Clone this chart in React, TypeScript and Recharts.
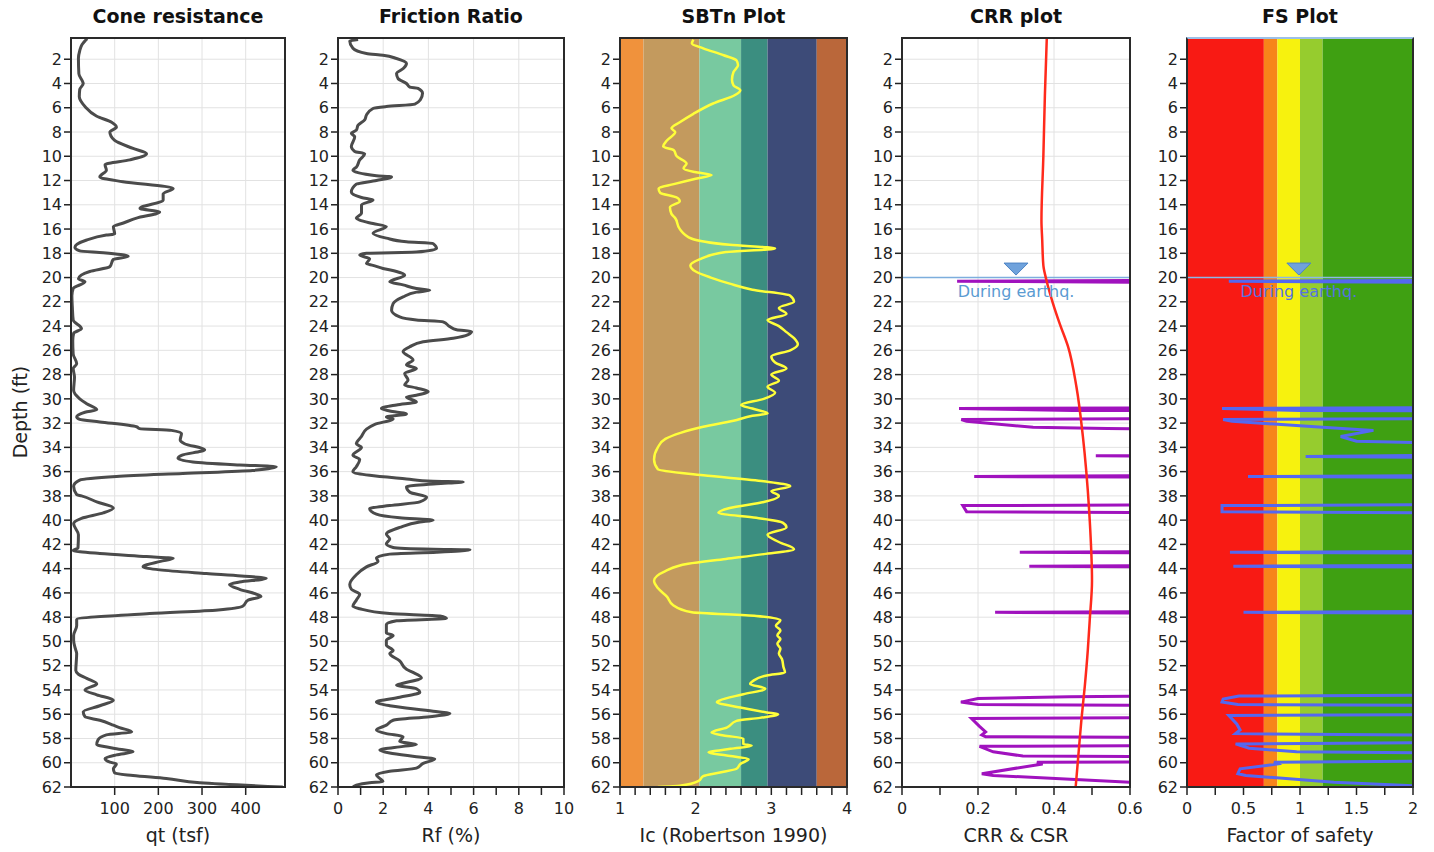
import React from 'react';
import { LineChart, Line, XAxis, YAxis, CartesianGrid, ReferenceLine, ReferenceArea, ReferenceDot } from 'recharts';

const FONT = "'DejaVu Sans', Verdana, sans-serif";

const depthTicks = [2, 4, 6, 8, 10, 12, 14, 16, 18, 20, 22, 24, 26, 28, 30, 32, 34, 36, 38, 40, 42, 44, 46, 48, 50, 52, 54, 56, 58, 60, 62];

const qtTicks = [100, 200, 300, 400];
const qtLabels = [100, 200, 300, 400];
const rfTicks = [0, 1, 2, 3, 4, 5, 6, 7, 8, 9, 10];
const rfLabels = [0, 2, 4, 6, 8, 10];
const icTicks = [1, 1.2, 1.4, 1.6, 1.8, 2, 2.2, 2.4, 2.6, 2.8, 3, 3.2, 3.4, 3.6, 3.8, 4];
const icLabels = [1, 2, 3, 4];
const crrTicks = [0, 0.1, 0.2, 0.3, 0.4, 0.5, 0.6];
const crrLabels = [0, 0.2, 0.4, 0.6];
const fsTicks = [0, 0.25, 0.5, 0.75, 1, 1.25, 1.5, 1.75, 2];
const fsLabels = [0, 0.5, 1, 1.5, 2];

// SBTn zone boundaries (Ic) and colours
const sbtZones: [number, number, string][] = [
  [1, 1.31, '#F0923C'],
  [1.31, 2.05, '#C39A5E'],
  [2.05, 2.6, '#78C9A0'],
  [2.6, 2.95, '#3B8E80'],
  [2.95, 3.6, '#3D4B78'],
  [3.6, 4, '#BA673A'],
];

// FS colour bands
const fsZones: [number, number, string][] = [
  [0, 0.68, '#F81A14'],
  [0.68, 0.8, '#F7841A'],
  [0.8, 1.0, '#F7F20E'],
  [1.0, 1.2, '#96CC2E'],
  [1.2, 2, '#3FA012'],
];

// [depth ft, qt tsf]
const qtData: [number, number][] = [
  [0.3, 37], [0.8, 25], [1.3, 20], [1.9, 17], [3.2, 18], [3.8, 26], [4.0, 28], [4.5, 20], [5.1, 19], [5.9, 32],
  [6.7, 59], [7.2, 93], [7.6, 104], [8.0, 89], [8.7, 100], [9.35, 142], [9.8, 173], [10.3, 135], [10.7, 78],
  [11.15, 81], [11.7, 66], [12.1, 119], [12.65, 234], [13.1, 211], [13.6, 211], [14.3, 158], [14.6, 203],
  [15.1, 150], [15.5, 120], [15.8, 97], [16.4, 100], [16.5, 81], [16.9, 36], [17.5, 9], [17.8, 20], [17.95, 74],
  [18.25, 131], [18.5, 97], [19.1, 89], [19.5, 43], [20.1, 17], [20.35, 32], [20.9, 5], [21.5, 2], [22.4, 3],
  [23.5, 5], [24.2, 24], [24.6, 6], [25.2, 4], [26.3, 5], [27.1, 13], [27.5, 5], [28.2, 8], [29.3, 6], [30.0, 20],
  [30.4, 36], [30.9, 59], [31.1, 32], [31.5, 13], [31.7, 20], [31.9, 66], [32.3, 150], [32.45, 157], [32.6, 230],
  [32.85, 253], [33.4, 250], [33.7, 260], [34.2, 306], [34.65, 253], [34.9, 245], [35.2, 279], [35.45, 386],
  [35.6, 470], [35.9, 416], [36.15, 256], [36.4, 104], [36.7, 20], [37.2, 6], [37.9, 13], [38.0, 24], [38.5, 59],
  [39.0, 97], [39.4, 74], [39.85, 24], [40.3, 6], [41.2, 17], [42.3, 16], [42.5, 5], [42.75, 66], [43.0, 173],
  [43.15, 234], [43.4, 205], [43.85, 165], [44.1, 203], [44.4, 310], [44.6, 390], [44.8, 447], [45.1, 386],
  [45.3, 363], [45.7, 386], [46.1, 424], [46.3, 435], [46.6, 405], [47.1, 393], [47.4, 337], [47.7, 180],
  [48.2, 13], [48.7, 13], [49.5, 6], [49.9, 6], [50.6, 10], [51.0, 13], [52.4, 11], [52.7, 17], [53.05, 36],
  [53.5, 59], [54.0, 32], [54.4, 59], [54.85, 97], [55.3, 66], [55.8, 28], [56.2, 32], [56.5, 66], [56.9, 97],
  [57.1, 111], [57.45, 139], [57.7, 81], [58.1, 62], [58.5, 59], [58.8, 97], [59.1, 142], [59.35, 104],
  [59.65, 78], [59.95, 89], [60.1, 104], [60.5, 97], [60.85, 100], [61.05, 142], [61.3, 218], [61.65, 295],
  [62.0, 485],
];

// [depth ft, Rf %]
const rfData: [number, number][] = [
  [0.38, 0.89], [0.5, 0.52], [1.1, 0.66], [1.53, 1.26], [1.67, 1.99], [1.94, 2.59], [2.35, 3.03], [2.75, 2.9],
  [3.18, 2.59], [3.6, 2.66], [4.0, 3.03], [4.3, 3.18], [4.4, 3.54], [4.8, 3.74], [5.35, 3.64], [5.7, 3.4],
  [5.9, 2.14], [6.06, 1.55], [6.6, 1.26], [7.0, 1.18], [7.44, 0.89], [7.85, 0.81], [8.1, 0.59], [8.4, 0.74],
  [9.2, 0.59], [9.6, 0.74], [9.8, 1.18], [10.3, 0.96], [10.9, 0.81], [11.15, 0.66], [11.6, 1.7], [11.7, 2.37],
  [12.0, 1.7], [12.3, 0.81], [12.95, 0.59], [13.4, 1.04], [13.6, 1.55], [14.0, 1.04], [14.7, 1.04], [15.1, 0.81],
  [15.27, 0.96], [15.55, 1.55], [15.8, 2.14], [16.35, 1.55], [16.75, 2.14], [17.05, 3.03], [17.2, 4.21],
  [17.6, 4.36], [17.9, 3.47], [18.0, 1.26], [18.15, 0.96], [18.45, 1.4], [18.85, 1.26], [19.0, 1.55],
  [19.25, 1.99], [19.5, 2.59], [19.8, 2.95], [20.35, 2.29], [20.6, 2.88], [20.9, 3.47], [21.05, 4.06],
  [21.2, 3.47], [21.6, 2.88], [22.15, 2.44], [22.7, 2.37], [23.25, 2.73], [23.5, 3.47], [23.65, 4.65],
  [24.05, 4.95], [24.3, 5.25], [24.45, 5.91], [24.7, 5.76], [25.0, 5.1], [25.3, 3.77], [25.7, 3.18], [26.1, 2.88],
  [26.8, 3.32], [27.2, 3.03], [27.5, 3.47], [27.9, 2.95], [28.45, 3.1], [28.85, 2.95], [29.1, 3.47], [29.4, 3.99],
  [29.7, 3.47], [29.85, 3.03], [30.25, 3.47], [30.5, 2.59], [30.8, 1.92], [31.0, 2.29], [31.25, 3.03], [31.5, 2.14],
  [31.65, 2.44], [32.1, 1.63], [32.5, 1.26], [33.1, 1.04], [33.7, 0.81], [34.0, 1.04], [34.65, 0.66], [35.0, 0.96],
  [35.6, 0.81], [36.0, 0.66], [36.3, 1.4], [36.6, 3.03], [36.8, 4.21], [36.85, 5.54], [37.0, 4.36], [37.25, 3.03],
  [37.7, 3.18], [38.1, 3.92], [38.5, 3.62], [38.8, 2.29], [39.05, 1.4], [39.5, 1.7], [39.8, 2.73], [40.0, 4.21],
  [40.15, 3.62], [40.6, 2.73], [41.15, 2.14], [41.55, 2.29], [41.95, 2.14], [42.25, 2.44], [42.4, 4.21],
  [42.45, 5.84], [42.65, 4.36], [42.8, 2.29], [43.1, 1.7], [43.4, 1.77], [43.85, 1.26], [44.5, 0.81], [45.3, 0.52],
  [45.7, 0.59], [46.1, 0.96], [46.6, 0.81], [47.1, 0.66], [47.3, 0.96], [47.7, 2.29], [47.9, 4.51], [48.1, 4.8],
  [48.3, 2.59], [48.6, 2.14], [49.3, 2.14], [49.5, 2.44], [49.9, 2.14], [50.3, 2.14], [50.75, 2.44], [51.0, 2.29],
  [51.6, 2.73], [52.3, 3.03], [52.55, 3.32], [53.0, 3.69], [53.45, 2.88], [53.6, 2.59], [53.9, 3.47], [54.2, 3.62],
  [54.6, 2.73], [55.0, 1.7], [55.3, 2.29], [55.75, 4.21], [55.95, 4.95], [56.2, 4.06], [56.5, 2.44], [56.9, 2.14],
  [57.3, 1.7], [57.6, 2.14], [57.85, 2.88], [58.25, 2.73], [58.5, 3.47], [58.65, 2.88], [58.95, 1.85], [59.2, 2.29],
  [59.5, 3.47], [59.7, 4.28], [60.05, 3.77], [60.45, 3.47], [60.7, 2.29], [61.0, 1.7], [61.3, 1.85], [61.55, 1.99],
  [61.65, 1.4], [61.85, 0.81], [62.0, 0.66],
];

// [depth ft, Ic]
const icData: [number, number][] = [
  [0.38, 1.97], [0.7, 1.95], [1.1, 2.1], [1.67, 2.37], [2.1, 2.54], [2.5, 2.56], [3.05, 2.5], [3.7, 2.48],
  [4.15, 2.5], [4.55, 2.59], [4.95, 2.52], [5.65, 2.23], [6.5, 1.97], [7.2, 1.79], [7.7, 1.68], [8.0, 1.73],
  [8.7, 1.62], [9.2, 1.57], [9.5, 1.71], [10.0, 1.75], [10.6, 1.88], [11.0, 1.84], [11.3, 1.99], [11.55, 2.21],
  [11.85, 2.0], [12.3, 1.71], [12.65, 1.51], [13.0, 1.53], [13.4, 1.75], [13.7, 1.79], [14.2, 1.66], [14.75, 1.68],
  [15.1, 1.73], [16.0, 1.79], [16.8, 1.95], [17.3, 2.45], [17.6, 3.05], [17.9, 2.4], [18.5, 2.05], [19.0, 1.93],
  [19.5, 2.0], [20.0, 2.2], [20.5, 2.45], [21.0, 2.75], [21.5, 3.25], [22.0, 3.3], [22.5, 3.1], [23.0, 3.2],
  [23.5, 2.95], [24.0, 3.1], [24.5, 3.2], [25.0, 3.3], [25.5, 3.35], [26.0, 3.25], [26.5, 3.0], [27.0, 3.05],
  [27.5, 3.2], [28.0, 3.0], [28.5, 3.1], [29.0, 2.95], [29.5, 3.05], [30.0, 2.9], [30.5, 2.6], [30.8, 2.75],
  [31.2, 2.95], [31.4, 2.75], [31.8, 2.5], [32.3, 2.1], [32.8, 1.8], [33.3, 1.6], [34.0, 1.5], [35.0, 1.45],
  [35.8, 1.5], [36.3, 2.1], [36.8, 2.9], [37.2, 3.25], [37.6, 3.0], [38.0, 3.1], [38.5, 2.9], [39.0, 2.45],
  [39.4, 2.3], [39.8, 2.8], [40.2, 3.15], [40.6, 3.2], [41.2, 2.95], [41.8, 3.1], [42.4, 3.3], [42.8, 2.9],
  [43.2, 2.4], [43.6, 1.9], [44.2, 1.6], [45.0, 1.45], [45.6, 1.5], [46.3, 1.62], [47.0, 1.7], [47.6, 1.95],
  [47.9, 2.8], [48.25, 3.12], [48.7, 3.06], [49.1, 3.12], [49.5, 3.08], [49.8, 3.12], [50.2, 3.08], [50.6, 3.12],
  [51.0, 3.1], [51.45, 3.14], [52.1, 3.16], [52.55, 3.18], [52.8, 2.94], [53.25, 2.76], [53.5, 2.72], [53.9, 2.92],
  [54.35, 2.63], [54.85, 2.32], [55.0, 2.28], [55.45, 2.59], [55.85, 2.94], [56.0, 3.09], [56.3, 2.85],
  [56.55, 2.54], [57.1, 2.41], [57.5, 2.21], [57.75, 2.37], [58.0, 2.63], [58.45, 2.63], [58.6, 2.74],
  [58.85, 2.46], [59.15, 2.17], [59.4, 2.41], [59.7, 2.7], [60.1, 2.59], [60.5, 2.54], [60.8, 2.32], [61.1, 2.1],
  [61.5, 2.04], [61.9, 1.79], [62.0, 1.5],
];

// [depth ft, CSR]
const csrData: [number, number][] = [
  [0.3, 0.381], [5, 0.376], [10, 0.372], [15.3, 0.367], [16.9, 0.369], [19, 0.372], [20.2, 0.38], [22.1, 0.397],
  [23.8, 0.415], [25.7, 0.437], [29, 0.459], [33.1, 0.476], [36, 0.485], [40, 0.494], [45, 0.5], [48.25, 0.494],
  [50.7, 0.489], [53.7, 0.481], [56.5, 0.472], [59.8, 0.463], [62, 0.457],
];

// [depth ft, CRR] (values above 0.6 run off the plot)
const crrData: [number, number][] = [
  [20.2, 1], [20.3, 0.145], [20.45, 1],
  [30.7, 1], [30.8, 0.15], [30.95, 0.45], [31.0, 1],
  [31.6, 1], [31.7, 0.156], [31.85, 0.17], [32.35, 0.345], [32.45, 0.54], [32.55, 1],
  [34.6, 1], [34.7, 0.51], [34.8, 1],
  [36.3, 1], [36.4, 0.19], [36.5, 1],
  [38.7, 1], [38.8, 0.16], [39.3, 0.17], [39.45, 1],
  [42.55, 1], [42.65, 0.31], [42.75, 1],
  [43.7, 1], [43.8, 0.335], [43.9, 1],
  [47.5, 1], [47.6, 0.245], [47.7, 1],
  [54.45, 1], [54.55, 0.44], [54.7, 0.2], [55.0, 0.155], [55.2, 0.2], [55.3, 1],
  [56.25, 1], [56.35, 0.183], [57.0, 0.204], [57.45, 0.22], [57.7, 0.21], [57.85, 0.22], [57.95, 1],
  [58.55, 1], [58.65, 0.204], [59.1, 0.24], [59.45, 0.318], [59.55, 1],
  [59.9, 1], [59.95, 0.355], [60.1, 0.37], [60.9, 0.21], [61.05, 0.24], [61.6, 0.6], [61.8, 1],
];

// [depth ft, factor of safety] (values above 2 run off the plot)
const fsData: [number, number][] = [
  [20.2, 3], [20.3, 0.37], [20.45, 3],
  [30.7, 3], [30.8, 0.31], [30.95, 1.0], [31.0, 3],
  [31.6, 3], [31.7, 0.32], [31.85, 0.4], [32.35, 1.2], [32.6, 1.65], [33.1, 1.36], [33.5, 1.5], [33.8, 3],
  [34.6, 3], [34.75, 1.05], [34.9, 3],
  [36.3, 3], [36.4, 0.54], [36.5, 3],
  [38.7, 3], [38.8, 0.31], [39.3, 0.31], [39.45, 3],
  [42.55, 3], [42.65, 0.38], [42.75, 3],
  [43.7, 3], [43.8, 0.41], [43.9, 3],
  [47.5, 3], [47.6, 0.5], [47.7, 3],
  [54.4, 3], [54.5, 0.46], [54.75, 0.32], [55.0, 0.31], [55.2, 0.45], [55.3, 3],
  [56.0, 3], [56.1, 0.37], [56.8, 0.44], [57.3, 0.47], [57.6, 0.43], [57.8, 3],
  [58.3, 3], [58.45, 0.43], [58.8, 0.55], [59.1, 0.97], [59.25, 3],
  [59.8, 3], [59.95, 0.77], [60.1, 0.8], [60.5, 0.47], [60.9, 0.45], [61.05, 0.52], [61.6, 1.3], [61.9, 2.0], [62, 3],
];

const WATER_DEPTH = 20;

const toRows = (arr: [number, number][]) => arr.map(([d, v]) => ({ d, v }));

const PLOT_TOP = 38;
const PLOT_BOTTOM = 787;
const H = 852;
const YW = 60;
const RM = 16;
const DEPTH_DOMAIN: [number, number] = [0.25, 62];

type PanelProps = {
  plotLeft: number;
  plotRight: number;
  title: string;
  xLabel: string;
  domain: [number, number];
  ticks: number[];
  labels: number[];
  gridX?: number[];
  gridY?: boolean;
  topBorder?: string;
  children?: React.ReactNode;
};

const Triangle = (props: any) => {
  const { cx, cy } = props;
  return (
    <polygon
      points={`${cx - 12},${cy - 6} ${cx + 12},${cy - 6} ${cx},${cy + 6}`}
      fill="#6FA2DC"
      stroke="#4C84C4"
      strokeWidth={1}
    />
  );
};

const makeLabel = (color: string) => (props: any) => (
  <text x={props.cx} y={props.cy + 5} textAnchor="middle" fill={color} fontSize={16} fontFamily={FONT}>
    During earthq.
  </text>
);

function Panel({ plotLeft, plotRight, title, xLabel, domain, ticks, labels, gridX = [], gridY = true, topBorder, children }: PanelProps) {
  const plotWidth = plotRight - plotLeft;
  const width = YW + plotWidth + RM;
  const fmt = (v: number) => (labels.some((l) => Math.abs(l - v) < 1e-6) ? String(v) : '');
  return (
    <div style={{ position: 'absolute', left: plotLeft - YW, top: 0, width, height: H }}>
      <div
        style={{
          position: 'absolute',
          left: YW,
          width: plotWidth,
          top: 5,
          textAlign: 'center',
          fontFamily: FONT,
          fontWeight: 'bold',
          fontSize: 19,
          color: '#111',
          whiteSpace: 'nowrap',
        }}
      >
        {title}
      </div>
      <LineChart width={width} height={H} layout="vertical" margin={{ top: PLOT_TOP, right: RM, left: 0, bottom: 0 }}>
        {gridY && <CartesianGrid horizontal vertical={false} stroke="#e2e2e2" />}
        <XAxis
          type="number"
          dataKey="v"
          domain={domain}
          ticks={ticks}
          interval={0}
          allowDataOverflow
          tickFormatter={fmt}
          height={H - PLOT_BOTTOM}
          tickSize={8}
          tickMargin={8}
          axisLine={false}
          tick={{ fontSize: 16, fill: '#222', fontFamily: FONT }}
          tickLine={{ stroke: '#222', strokeWidth: 1.5 }}
          label={{ value: xLabel, position: 'insideBottom', offset: 10, fontSize: 19, fill: '#222', fontFamily: FONT }}
        />
        <YAxis
          type="number"
          dataKey="d"
          domain={DEPTH_DOMAIN}
          ticks={depthTicks}
          interval={0}
          allowDataOverflow
          width={YW}
          tickSize={7}
          tickMargin={2}
          axisLine={false}
          tick={{ fontSize: 16, fill: '#222', fontFamily: FONT }}
          tickLine={{ stroke: '#222', strokeWidth: 1.5 }}
        />
        {gridX.map((x) => (
          <ReferenceLine key={`gx${x}`} x={x} stroke="#e2e2e2" strokeWidth={1} />
        ))}
        {children}
      </LineChart>
      <div
        style={{
          position: 'absolute',
          left: YW - 1,
          top: PLOT_TOP - 1,
          width: plotWidth + 2,
          height: PLOT_BOTTOM - PLOT_TOP + 2,
          boxSizing: 'border-box',
          border: '2px solid #2a2a2a',
          borderTopColor: topBorder || '#2a2a2a',
          pointerEvents: 'none',
        }}
      />
    </div>
  );
}

export default function App() {
  const qtRows = toRows(qtData);
  const rfRows = toRows(rfData);
  const icRows = toRows(icData);
  const csrRows = toRows(csrData);
  const crrRows = toRows(crrData);
  const fsRows = toRows(fsData);
  return (
    <div style={{ position: 'absolute', left: 0, top: 0, width: 1434, height: 852, background: '#fff', overflow: 'hidden' }}>
      <div
        style={{
          position: 'absolute',
          left: 20,
          top: 412,
          transform: 'translate(-50%, -50%) rotate(-90deg)',
          fontFamily: FONT,
          fontSize: 19,
          color: '#222',
          whiteSpace: 'nowrap',
        }}
      >
        Depth (ft)
      </div>

      <Panel plotLeft={71} plotRight={285} title="Cone resistance" xLabel="qt (tsf)" domain={[0, 490]} ticks={qtTicks} labels={qtLabels} gridX={qtTicks}>
        <Line data={qtRows} dataKey="v" type="monotone" stroke="#4b4b4b" strokeWidth={3} dot={false} activeDot={false} isAnimationActive={false} />
      </Panel>

      <Panel plotLeft={338} plotRight={564} title="Friction Ratio" xLabel="Rf (%)" domain={[0, 10]} ticks={rfTicks} labels={rfLabels} gridX={[2, 4, 6, 8]}>
        <Line data={rfRows} dataKey="v" type="monotone" stroke="#4b4b4b" strokeWidth={3} dot={false} activeDot={false} isAnimationActive={false} />
      </Panel>

      <Panel plotLeft={620} plotRight={847} title="SBTn Plot" xLabel="Ic (Robertson 1990)" domain={[1, 4]} ticks={icTicks} labels={icLabels} gridY={false}>
        {sbtZones.map(([a, b, c]) => (
          <ReferenceArea key={`z${a}`} x1={a} x2={b} y1={DEPTH_DOMAIN[0]} y2={DEPTH_DOMAIN[1]} fill={c} fillOpacity={1} stroke="none" />
        ))}
        <Line data={icRows} dataKey="v" type="monotone" stroke="#FFFF3A" strokeWidth={2.5} dot={false} activeDot={false} isAnimationActive={false} />
      </Panel>

      <Panel plotLeft={902} plotRight={1130} title="CRR plot" xLabel="CRR & CSR" domain={[0, 0.6]} ticks={crrTicks} labels={crrLabels} gridX={[0.2, 0.4]}>
        <ReferenceLine y={WATER_DEPTH} stroke="#7DAEDD" strokeWidth={1.5} />
        <Line data={crrRows} dataKey="v" stroke="#A012BE" strokeWidth={3} dot={false} activeDot={false} isAnimationActive={false} />
        <Line data={csrRows} dataKey="v" type="monotone" stroke="#FF2A1C" strokeWidth={2.5} dot={false} activeDot={false} isAnimationActive={false} />
        <ReferenceDot x={0.3} y={19.3} r={10} shape={Triangle} />
        <ReferenceDot x={0.3} y={21.2} r={1} shape={makeLabel('#5A9BD2')} />
      </Panel>

      <Panel plotLeft={1187} plotRight={1413} title="FS Plot" xLabel="Factor of safety" domain={[0, 2]} ticks={fsTicks} labels={fsLabels} gridY={false} topBorder="#9CC0E8">
        {fsZones.map(([a, b, c]) => (
          <ReferenceArea key={`f${a}`} x1={a} x2={b} y1={DEPTH_DOMAIN[0]} y2={DEPTH_DOMAIN[1]} fill={c} fillOpacity={1} stroke="none" />
        ))}
        <ReferenceLine y={WATER_DEPTH} stroke="#8DB8E6" strokeWidth={1.5} />
        <Line data={fsRows} dataKey="v" stroke="#5468F0" strokeWidth={3} dot={false} activeDot={false} isAnimationActive={false} />
        <ReferenceDot x={0.99} y={19.3} r={10} shape={Triangle} />
        <ReferenceDot x={0.99} y={21.2} r={1} shape={makeLabel('#5572E2')} />
      </Panel>
    </div>
  );
}
